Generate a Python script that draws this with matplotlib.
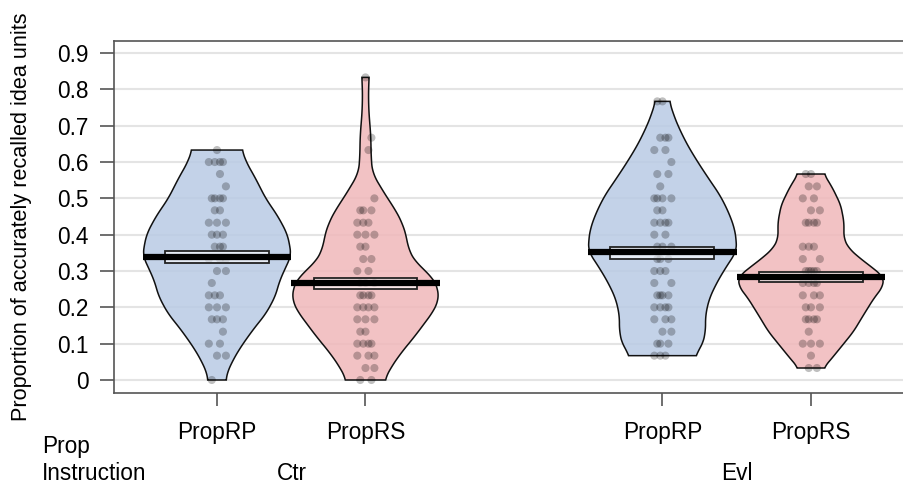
import matplotlib
matplotlib.use("Agg")
import matplotlib.pyplot as plt
import numpy as np

plt.rcParams['font.family'] = ['Liberation Sans', 'DejaVu Sans']

# --- DATA ---
positions = [1, 2, 4, 5]
tick_labels = ["PropRP", "PropRS", "PropRP", "PropRS"]
group_labels = ["Ctr", "Evl"]

# bean outlines: value level -> half width (x units)
ctr_rp_lvl = [0.633, 0.596, 0.56, 0.50, 0.45, 0.404, 0.367, 0.341, 0.312, 0.275, 0.229, 0.183, 0.138, 0.092, 0.055, 0.018, 0.0]
ctr_rp_hw = [0.168, 0.202, 0.253, 0.328, 0.411, 0.471, 0.492, 0.498, 0.465, 0.424, 0.391, 0.330, 0.242, 0.162, 0.108, 0.067, 0.061]

ctr_rs_lvl = [0.833, 0.798, 0.743, 0.67, 0.615, 0.569, 0.541, 0.505, 0.468, 0.431, 0.395, 0.358, 0.321, 0.284, 0.248, 0.22, 0.193, 0.156, 0.119, 0.073, 0.028, 0.0]
ctr_rs_hw = [0.025, 0.020, 0.022, 0.036, 0.038, 0.047, 0.088, 0.141, 0.202, 0.249, 0.276, 0.290, 0.343, 0.451, 0.492, 0.492, 0.465, 0.397, 0.330, 0.236, 0.162, 0.128]

evl_rp_lvl = [0.767, 0.729, 0.693, 0.647, 0.601, 0.555, 0.509, 0.463, 0.418, 0.381, 0.353, 0.317, 0.271, 0.225, 0.179, 0.133, 0.096, 0.067]
evl_rp_hw = [0.047, 0.076, 0.112, 0.168, 0.236, 0.310, 0.387, 0.444, 0.485, 0.498, 0.498, 0.438, 0.370, 0.316, 0.290, 0.290, 0.269, 0.219]

evl_rs_lvl = [0.567, 0.528, 0.482, 0.436, 0.39, 0.363, 0.335, 0.307, 0.284, 0.257, 0.225, 0.179, 0.133, 0.087, 0.05, 0.033]
evl_rs_hw = [0.088, 0.146, 0.200, 0.222, 0.222, 0.253, 0.330, 0.421, 0.488, 0.485, 0.424, 0.354, 0.286, 0.195, 0.121, 0.084]

# raw points: value and how many participants at that value
ctr_rp_vals = [0.633, 0.6, 0.567, 0.533, 0.5, 0.467, 0.433, 0.4, 0.367, 0.333, 0.3, 0.267, 0.233, 0.2, 0.167, 0.133, 0.1, 0.067, 0.0]
ctr_rp_n = [1, 4, 1, 1, 4, 2, 3, 3, 3, 3, 2, 1, 3, 3, 3, 1, 2, 2, 1]

ctr_rs_vals = [0.833, 0.667, 0.633, 0.5, 0.467, 0.433, 0.4, 0.367, 0.333, 0.3, 0.267, 0.233, 0.2, 0.167, 0.133, 0.1, 0.067, 0.033, 0.0]
ctr_rs_n = [1, 1, 1, 1, 3, 3, 3, 2, 2, 2, 3, 4, 4, 3, 2, 4, 3, 2, 2]

evl_rp_vals = [0.767, 0.667, 0.633, 0.6, 0.567, 0.533, 0.5, 0.467, 0.433, 0.4, 0.367, 0.333, 0.3, 0.267, 0.233, 0.2, 0.167, 0.133, 0.1, 0.067]
evl_rp_n = [2, 3, 2, 1, 2, 1, 4, 2, 4, 2, 3, 3, 3, 2, 4, 4, 3, 2, 3, 3]

evl_rs_vals = [0.567, 0.533, 0.5, 0.467, 0.433, 0.367, 0.333, 0.3, 0.267, 0.233, 0.2, 0.167, 0.133, 0.1, 0.067, 0.033]
evl_rs_n = [2, 2, 2, 2, 4, 3, 2, 5, 4, 3, 3, 4, 1, 3, 1, 2]

means = [0.339, 0.266, 0.352, 0.284]
band_lo = [0.323, 0.251, 0.333, 0.270]
band_hi = [0.356, 0.282, 0.367, 0.298]

beans = [
    (ctr_rp_lvl, ctr_rp_hw, ctr_rp_vals, ctr_rp_n),
    (ctr_rs_lvl, ctr_rs_hw, ctr_rs_vals, ctr_rs_n),
    (evl_rp_lvl, evl_rp_hw, evl_rp_vals, evl_rp_n),
    (evl_rs_lvl, evl_rs_hw, evl_rs_vals, evl_rs_n),
]
colors = ["#b9cbe4", "#f0b8ba", "#b9cbe4", "#f0b8ba"]

# horizontal spread pattern for stacked points
JITTER = [0.0, -0.035, 0.04, -0.015, 0.02, -0.055, 0.06]


def smooth_outline(lvl, hw):
    # resample the read-off outline and round the corners a little
    lvl = np.array(lvl)[::-1]
    hw = np.array(hw)[::-1]
    yy = np.linspace(lvl[0], lvl[-1], 300)
    ww = np.interp(yy, lvl, hw)
    k = 9
    pad = np.concatenate([np.full(k, ww[0]), ww, np.full(k, ww[-1])])
    ww = np.convolve(pad, np.ones(2 * k + 1) / (2 * k + 1), mode="same")[k:-k]
    return yy, ww


# --- PLOT ---
fig = plt.figure(figsize=(9.04, 4.87), dpi=100)
ax = fig.add_axes([114 / 904, 94 / 487, 792 / 904, 352.3 / 487])

for i, (lvl, hw, vals, n) in enumerate(beans):
    x0 = positions[i]
    yy, ww = smooth_outline(lvl, hw)
    xs = np.concatenate([x0 - ww, (x0 + ww)[::-1]])
    ys = np.concatenate([yy, yy[::-1]])
    ax.fill(xs, ys, facecolor=colors[i], alpha=0.85, edgecolor="none", zorder=2)
    ax.fill(xs, ys, facecolor="none", edgecolor="#111111", lw=1.1, zorder=2.5)

    px, py = [], []
    for r, (v, k) in enumerate(zip(vals, n)):
        for j in range(k):
            px.append(x0 + JITTER[(j + 2 * r) % len(JITTER)])
            py.append(v)
    ax.scatter(px, py, s=34, color="black", alpha=0.25, edgecolors="none", zorder=3)

    ax.add_patch(plt.Rectangle((x0 - 0.35, band_lo[i]), 0.7, band_hi[i] - band_lo[i],
                               facecolor=(1, 1, 1, 0.6), edgecolor="#222222", lw=1.3, zorder=4))
    ax.plot([x0 - 0.5, x0 + 0.5], [means[i], means[i]], color="black", lw=4.5,
            solid_capstyle="butt", zorder=5)

# --- AXES FORMATTING ---
ax.set_xlim(0.3064, 5.64)
ax.set_ylim(-0.0358, 0.934)

yt = np.arange(0, 1.0, 0.1)
ax.set_yticks(yt)
ax.set_yticklabels(["0"] + ["%.1f" % t for t in yt[1:]])
ax.yaxis.grid(True, color="#e4e4e4", lw=1.5)
ax.set_axisbelow(True)

ax.set_xticks(positions)
ax.set_xticklabels(tick_labels)

fs = 16.3
ax.tick_params(axis="y", length=10, width=1.2, color="#555555", pad=8, labelsize=fs)
ax.tick_params(axis="x", length=9.5, width=1.2, color="#555555", pad=11, labelsize=fs)

for s in ["top", "left", "bottom"]:
    ax.spines[s].set_color("#555555")
    ax.spines[s].set_linewidth(1.2)
ax.spines["right"].set_visible(False)

# group and row labels below the axis
for g, xpix in zip(group_labels, [291.5, 737]):
    fig.text(xpix / 904, 1 - 473 / 487, g, fontsize=fs, ha="center", va="center")
fig.text(42 / 904, 1 - 447 / 487, "Prop", fontsize=fs, ha="left", va="center")
fig.text(42 / 904, 1 - 473 / 487, "Instruction", fontsize=fs, ha="left", va="center")

fig.text(22 / 904, 1 - 217 / 487, "Proportion of accurately recalled idea units",
         rotation=90, fontsize=15.6, ha="center", va="center")

fig.savefig("out.png", dpi=100)
